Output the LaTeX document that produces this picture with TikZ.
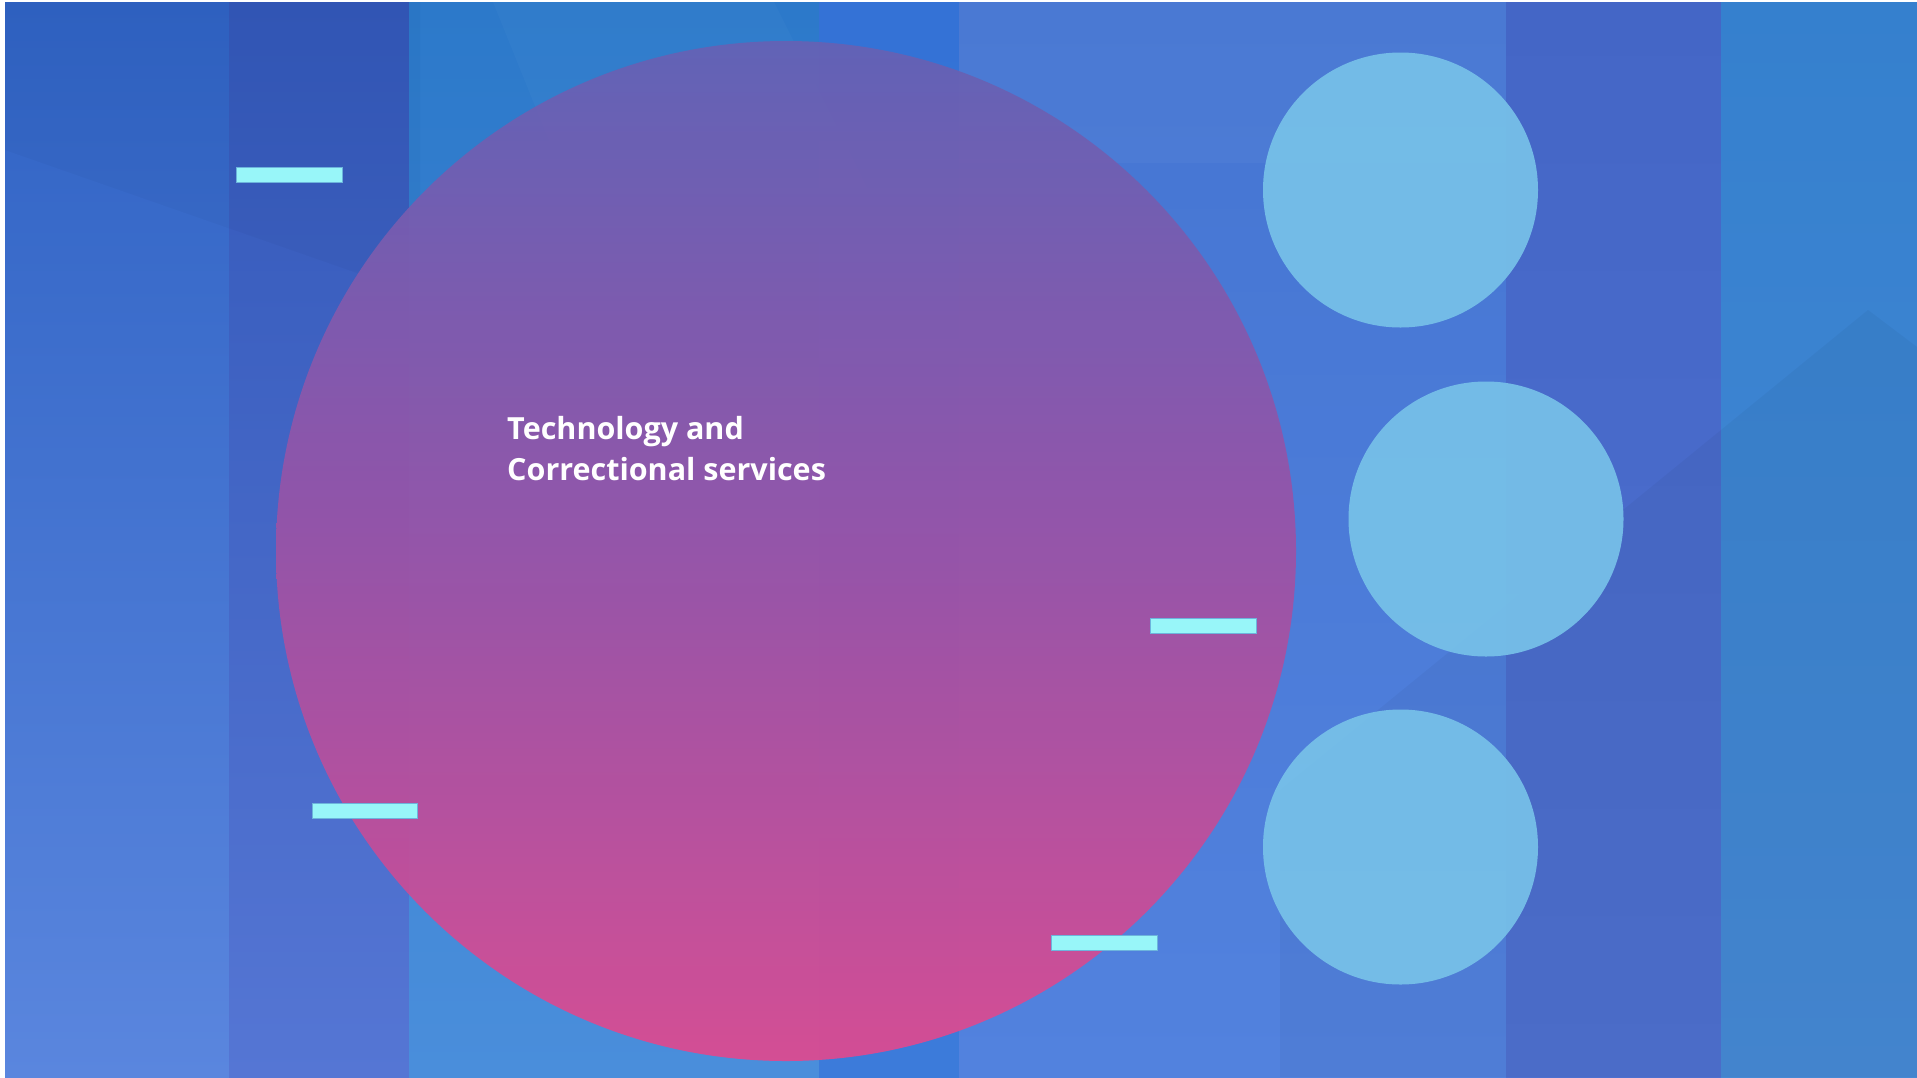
\documentclass[tikz,border=0pt]{standalone}
\usepackage{fontspec}
\setmainfont{Open Sans}
\begin{document}
\begin{tikzpicture}[x=1pt,y=-1pt,
  band/.style={draw=none},
  bigcircle/.style={circle,draw=none,inner sep=0pt,minimum size=1020pt,
    top color=c1top,bottom color=c1bot,middle color=c1mid,fill opacity=0.95},
  smallcircle/.style={circle,draw=none,fill=lightb,fill opacity=0.93,inner sep=0pt,minimum size=275pt},
  bar/.style={draw=barline,line width=0.8pt,fill=barfill},
  label/.style={text=white,font=\fontsize{30.5}{41}\selectfont\bfseries,inner sep=0pt,anchor=base west}]
\definecolor{b0t}{HTML}{3063C4}\definecolor{b0b}{HTML}{5A86DE}
\definecolor{b1t}{HTML}{3358B9}\definecolor{b1b}{HTML}{5576D4}
\definecolor{b2t}{HTML}{2C79CA}\definecolor{b2b}{HTML}{4A8EDB}
\definecolor{b3t}{HTML}{3472D6}\definecolor{b3b}{HTML}{3C7BDA}
\definecolor{b4t}{HTML}{4575D2}\definecolor{b4b}{HTML}{5282DE}
\definecolor{b5t}{HTML}{4466C6}\definecolor{b5b}{HTML}{4E70D0}
\definecolor{b6t}{HTML}{3580CE}\definecolor{b6b}{HTML}{4689D5}
\definecolor{c1top}{HTML}{6462B5}\definecolor{c1mid}{HTML}{9A53A7}\definecolor{c1bot}{HTML}{DC4B91}
\definecolor{lightb}{HTML}{77C1E9}
\definecolor{barfill}{HTML}{98F6F9}\definecolor{barline}{HTML}{6CB4DC}
\useasboundingbox (0,0) rectangle (1917,1077);
\fill[white] (0,0) rectangle (1917,1077);
% background bands
\shade[band,top color=b0t,bottom color=b0b] (5,2) rectangle (229,1077);
\shade[band,top color=b1t,bottom color=b1b] (229,2) rectangle (409,1077);
\shade[band,top color=b2t,bottom color=b2b] (409,2) rectangle (819,1077);
\shade[band,top color=b3t,bottom color=b3b] (819,2) rectangle (959,1077);
\shade[band,top color=b4t,bottom color=b4b] (959,2) rectangle (1506,1077);
\shade[band,top color=b5t,bottom color=b5b] (1506,2) rectangle (1721,1077);
\shade[band,top color=b6t,bottom color=b6b] (1721,2) rectangle (1917,1077);
% faint diagonal facets
\fill[white,opacity=0.03] (959,2) rectangle (1506,163);
\fill[white,opacity=0.025] (493,2) -- (774,2) -- (901,255) -- (608,287) -- cycle;
\fill[black,opacity=0.035] (1280,790) -- (1868,310) -- (1917,347) -- (1917,1077) -- (1280,1077) -- cycle;
\fill[black,opacity=0.025] (5,150) -- (420,295) -- (420,2) -- (5,2) -- cycle;
% circles
\node[bigcircle] (main) at (786,551) {};
\node[smallcircle] (s1) at (1400.5,190) {};
\node[smallcircle] (s2) at (1486,519) {};
\node[smallcircle] (s3) at (1400.5,847) {};
% bars
\draw[bar] (236,167.5) rectangle (342,182);
\draw[bar] (1150,618.5) rectangle (1256,633);
\draw[bar] (312,803.5) rectangle (417,818);
\draw[bar] (1051,935.5) rectangle (1157,950);
% text
\node[label] (t1) at (507,439) {Technology and};
\node[label] (t2) at (507,480) {Correctional services};
\end{tikzpicture}
\end{document}
